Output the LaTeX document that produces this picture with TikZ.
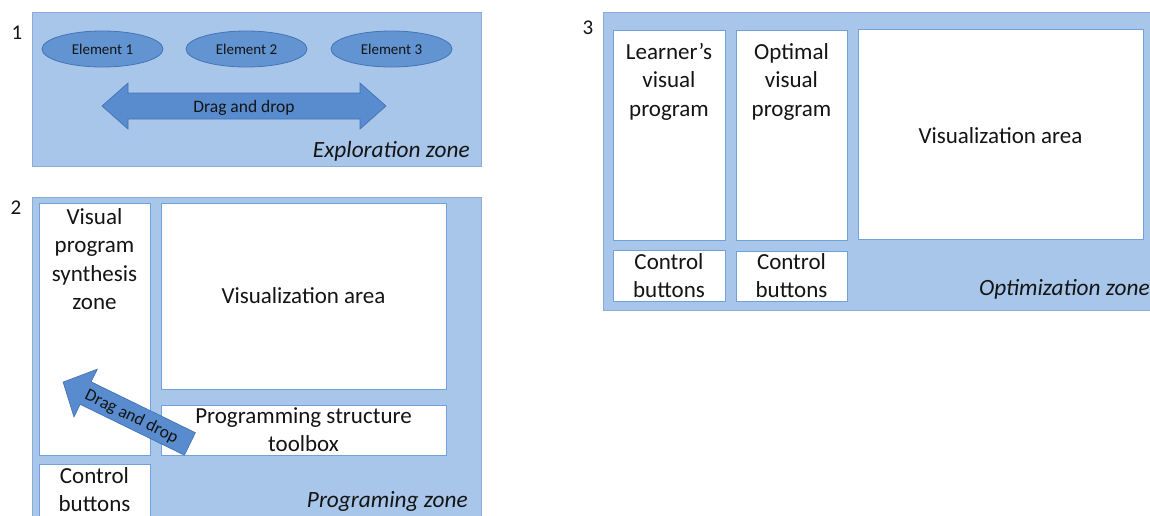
\documentclass[tikz,border=0pt]{standalone}
\usepackage{fontspec}
\setmainfont{Carlito}
\usetikzlibrary{fit,shapes.geometric}

\definecolor{panelfill}{RGB}{168,198,234}
\definecolor{panelline}{RGB}{140,172,214}
\definecolor{boxline}{RGB}{115,160,218}
\definecolor{elemfill}{RGB}{98,148,210}
\definecolor{elemline}{RGB}{70,115,180}
\definecolor{arrowfill}{RGB}{88,140,206}
\definecolor{arrowline}{RGB}{70,115,180}
\definecolor{ink}{RGB}{20,20,20}

\tikzset{
  panel/.style={draw=panelline, line width=1pt, fill=panelfill, inner sep=0pt},
  whitebox/.style={draw=boxline, line width=0.9pt, fill=white, inner sep=0pt},
  element/.style={ellipse, draw=elemline, line width=0.8pt, fill=elemfill,
    minimum width=121pt, minimum height=36pt, inner sep=0pt,
    font=\fontsize{15}{18}\selectfont, text=ink},
  boxtext/.style={font=\fontsize{23}{28.5}\selectfont, align=center,
    inner sep=0pt, text=ink},
  zonetext/.style={font=\itshape\fontsize{23.3}{27}\selectfont, inner sep=0pt,
    anchor=base east, text=ink},
  numtext/.style={font=\fontsize{21}{25}\selectfont, inner sep=0pt, text=ink},
  dragtext/.style={font=\fontsize{17.5}{20}\selectfont, inner sep=0pt, text=ink},
  bigarrow/.style={fill=arrowfill, draw=arrowline, line width=0.7pt},
}

\begin{document}
\begin{tikzpicture}[x=1pt, y=-1pt]
\useasboundingbox (0,0) rectangle (1150,515);

% ---------------- 1: exploration zone ----------------
\node[numtext] (n1) at (17,33) {1};
\node[panel, fit={(32,12) (481,166)}] (explore) {};
\node[element] (e1) at (102.5,49) {Element 1};
\node[element] (e2) at (246.5,49) {Element 2};
\node[element] (e3) at (391.5,49) {Element 3};
\draw[bigarrow] (102,106) -- (128,83) -- (128,93) -- (360,93) -- (360,83)
  -- (386,106) -- (360,129) -- (360,119) -- (128,119) -- (128,129) -- cycle;
\node[dragtext, anchor=base] (dd1) at (244,112) {Drag and drop};
\node[zonetext] (z1) at (470,157) {Exploration zone};

% ---------------- 2: programming zone ----------------
\node[numtext] (n2) at (16,208) {2};
\node[panel, fit={(32,197) (481,530)}] (prog) {};
\node[whitebox, fit={(39,203) (150,455)}] (synth) {};
\node[whitebox, fit={(161,203) (446,389)}] (viz2) {};
\node[whitebox, fit={(161,405) (446,455)}] (toolbox) {};
\node[whitebox, fit={(39,464) (150,530)}] (ctrl2) {};
\node[boxtext, anchor=north] (synthtxt) at (94.5,208) {Visual\\program\\synthesis\\zone};
\node[boxtext, anchor=base] (viz2txt) at (303.5,303) {Visualization area};
\node[boxtext, anchor=north] (tooltxt) at (303.5,407) {Programming structure\\toolbox};
\node[boxtext, anchor=north] (ctrl2txt) at (94.5,467) {Control\\buttons};
\node[zonetext] (z2) at (468,507) {Programing zone};
% arrow from the toolbox into the synthesis zone
\begin{scope}[shift={(126.5,413)}, rotate=-26]
  \draw[bigarrow] (-70.5,0) -- (-45.5,-26.5) -- (-45.5,-12.5) -- (70.5,-12.5)
    -- (70.5,12.5) -- (-45.5,12.5) -- (-45.5,26.5) -- cycle;
\end{scope}
\node[dragtext, rotate=-26] (dd2) at (131.5,417) {Drag and drop};

% ---------------- 3: optimization zone ----------------
\node[numtext] (n3) at (588,28) {3};
\node[panel, fit={(603,12) (1160,310)}] (optim) {};
\node[whitebox, fit={(613,30) (725,240)}] (learner) {};
\node[whitebox, fit={(736,30) (847,240)}] (optimal) {};
\node[whitebox, fit={(858,29) (1143,239)}] (viz3) {};
\node[whitebox, fit={(613,250) (725,301)}] (ctrl3a) {};
\node[whitebox, fit={(736,251) (847,301)}] (ctrl3b) {};
\node[boxtext, anchor=north] (learnertxt) at (669,43) {Learner’s\\visual\\program};
\node[boxtext, anchor=north] (optimaltxt) at (791.5,43) {Optimal\\visual\\program};
\node[boxtext, anchor=base] (viz3txt) at (1000.5,143) {Visualization area};
\node[boxtext, anchor=north] (ctrl3atxt) at (669,253) {Control\\buttons};
\node[boxtext, anchor=north] (ctrl3btxt) at (791.5,253) {Control\\buttons};
\node[zonetext] (z3) at (1150,295) {Optimization zone};
\end{tikzpicture}
\end{document}
